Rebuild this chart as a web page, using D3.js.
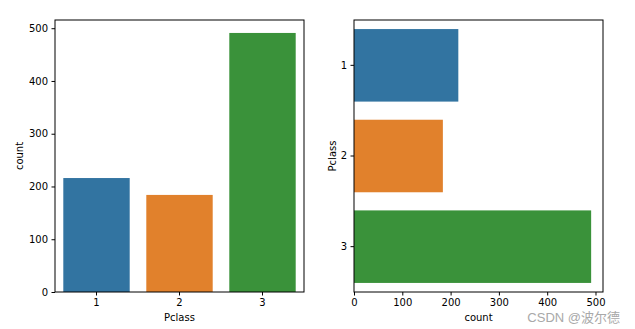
<!DOCTYPE html>
<html>
<head>
<meta charset="utf-8">
<script src="https://cdn.jsdelivr.net/npm/d3@7"></script>
<style>
  html, body { margin: 0; padding: 0; background: #fff; }
  svg { display: block; font-family: "DejaVu Sans", sans-serif; }
  .tick text { font-size: 10px; fill: #000; font-family: "DejaVu Sans", sans-serif; }
  .tick line { stroke: #000; }
  .domain { display: none; }
</style>
</head>
<body>
<svg id="chart" width="635" height="329"></svg>
<script>
// Passenger counts per ticket class
const classes = ["1", "2", "3"];
const counts = [216, 184, 491];
const colors = ["#3274a1", "#e1812c", "#3a923a"];
const countTicks = [0, 100, 200, 300, 400, 500];

const svg = d3.select("#chart");
const yMax = d3.max(counts) * 1.05;

function frame(g, w, h) {
  g.append("rect").attr("x", 0).attr("y", 0).attr("width", w).attr("height", h)
    .attr("fill", "none").attr("stroke", "#000").attr("stroke-width", 1);
}

// Left panel: vertical count plot
{
  const left = 55, top = 20, w = 249, h = 272;
  const g = svg.append("g").attr("transform", `translate(${left},${top})`);
  const x = d3.scaleBand().domain(classes).range([0, w]).paddingInner(0.2).paddingOuter(0.1);
  const y = d3.scaleLinear().domain([0, yMax]).range([h, 0]);

  g.selectAll("rect.bar").data(classes).join("rect").attr("class", "bar")
    .attr("x", d => x(d)).attr("width", x.bandwidth())
    .attr("y", (d, i) => y(counts[i])).attr("height", (d, i) => h - y(counts[i]))
    .attr("fill", (d, i) => colors[i]);

  g.append("g").attr("transform", `translate(0,${h})`)
    .call(d3.axisBottom(x).tickSize(3.5).tickPadding(3.5));
  g.append("g").call(d3.axisLeft(y).tickValues(countTicks).tickSize(3.5).tickPadding(3.5));
  frame(g, w, h);

  g.append("text").attr("x", w / 2).attr("y", h + 29).attr("text-anchor", "middle")
    .attr("font-size", 10).text("Pclass");
  g.append("text").attr("transform", `translate(${-32},${h / 2}) rotate(-90)`)
    .attr("text-anchor", "middle").attr("font-size", 10).text("count");
}

// Right panel: horizontal count plot
{
  const left = 354, top = 20, w = 249, h = 272;
  const g = svg.append("g").attr("transform", `translate(${left},${top})`);
  const y = d3.scaleBand().domain(classes).range([0, h]).paddingInner(0.2).paddingOuter(0.1);
  const x = d3.scaleLinear().domain([0, yMax]).range([0, w]);

  g.selectAll("rect.bar").data(classes).join("rect").attr("class", "bar")
    .attr("y", d => y(d)).attr("height", y.bandwidth())
    .attr("x", 0).attr("width", (d, i) => x(counts[i]))
    .attr("fill", (d, i) => colors[i]);

  g.append("g").attr("transform", `translate(0,${h})`)
    .call(d3.axisBottom(x).tickValues(countTicks).tickSize(3.5).tickPadding(3.5));
  g.append("g").call(d3.axisLeft(y).tickSize(3.5).tickPadding(3.5));
  frame(g, w, h);

  g.append("text").attr("x", w / 2).attr("y", h + 29).attr("text-anchor", "middle")
    .attr("font-size", 10).text("count");
  g.append("text").attr("transform", `translate(${-18},${h / 2}) rotate(-90)`)
    .attr("text-anchor", "middle").attr("font-size", 10).text("Pclass");
}

// Watermark
svg.append("text").attr("x", 620).attr("y", 322).attr("text-anchor", "end")
  .attr("font-family", "'Liberation Sans', 'Noto Sans CJK SC', sans-serif").attr("font-size", 13)
  .attr("fill", "#a0a0a0").attr("opacity", 0.9).text("CSDN @波尔德");
</script>
</body>
</html>
